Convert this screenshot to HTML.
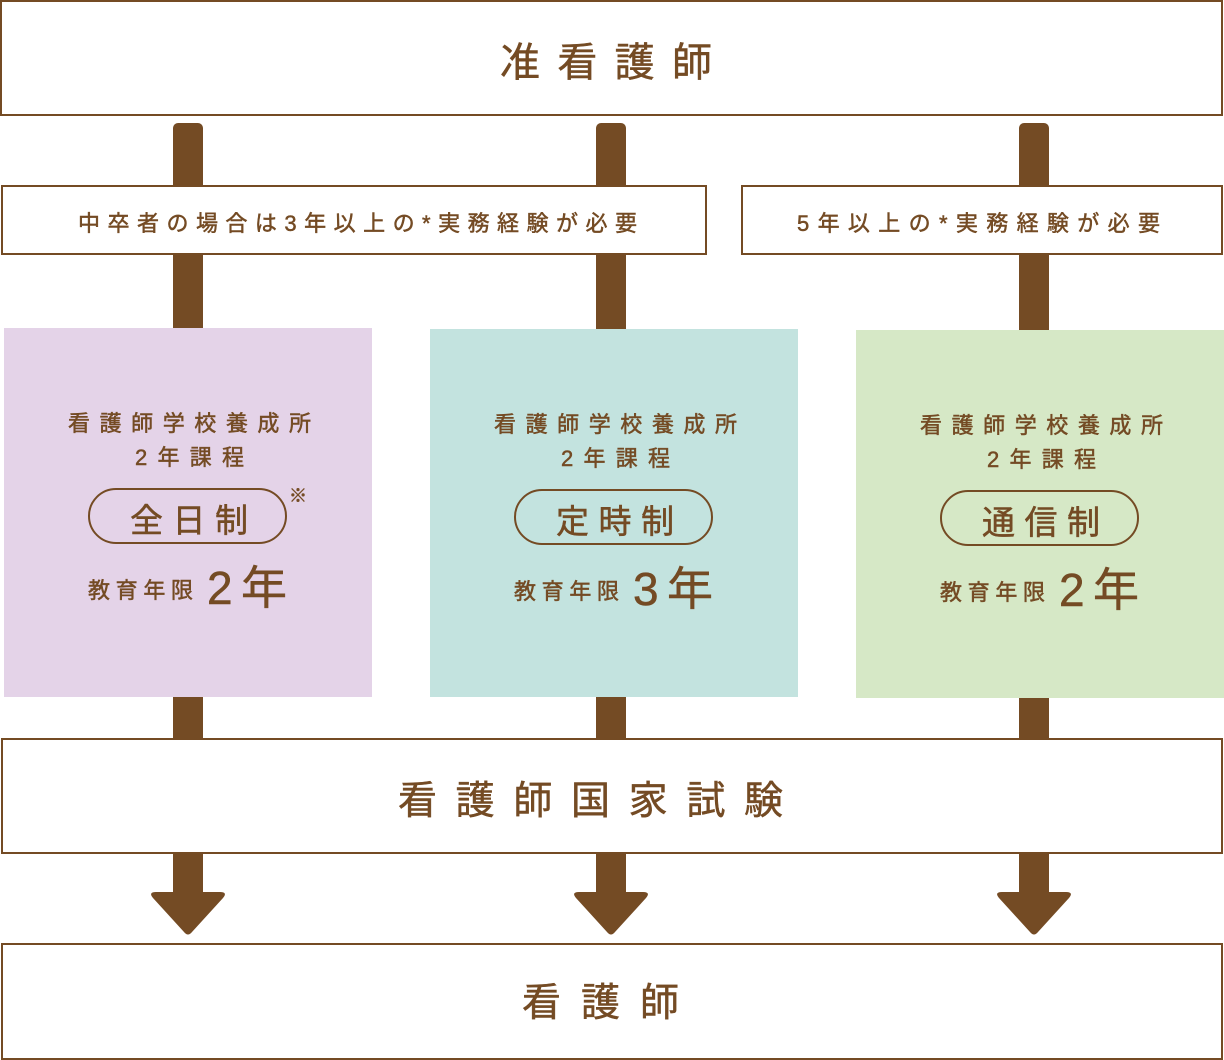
<!DOCTYPE html>
<html><head><meta charset="utf-8"><style>
html,body{margin:0;padding:0;background:#fff;}
svg{display:block;}
text{font-family:"Liberation Sans","Noto Sans CJK JP",sans-serif;fill:#744b24;stroke:#744b24;stroke-width:0.5px;}
</style></head><body>
<svg width="1224" height="1060" viewBox="0 0 1224 1060" xmlns="http://www.w3.org/2000/svg">
<g fill="#744b24">
  <rect x="173" y="123" width="30" height="780" rx="5"/>
  <rect x="596" y="123" width="30" height="780" rx="5"/>
  <rect x="1019" y="123" width="30" height="780" rx="5"/>
  <path d="M156 892 L220 892 Q228 892 223 898 L192 932 Q188 937 184 932 L153 898 Q148 892 156 892Z"/>
  <path d="M579 892 L643 892 Q651 892 646 898 L615 932 Q611 937 607 932 L576 898 Q571 892 579 892Z"/>
  <path d="M1002 892 L1066 892 Q1074 892 1069 898 L1038 932 Q1034 937 1030 932 L999 898 Q994 892 1002 892Z"/>
</g>
<g fill="#fff" stroke="#744b24" stroke-width="2">
  <rect x="1" y="1" width="1221" height="114"/>
  <rect x="2" y="186" width="704" height="68"/>
  <rect x="742" y="186" width="480" height="68"/>
  <rect x="2" y="739" width="1220" height="114"/>
  <rect x="2" y="944" width="1220" height="115"/>
</g>
<rect x="4" y="328" width="368" height="369" fill="#e4d3e8"/>
<rect x="430" y="329" width="368" height="368" fill="#c3e3df"/>
<rect x="856" y="330" width="368" height="368" fill="#d6e8c6"/>

<text x="500" y="76" font-size="40" textLength="212" lengthAdjust="spacing">准看護師</text>
<text x="78" y="231" font-size="22" textLength="559" lengthAdjust="spacing">中卒者の場合は3年以上の*実務経験が必要</text>
<text x="797" y="231" font-size="22" textLength="363" lengthAdjust="spacing">5年以上の*実務経験が必要</text>

<g>
  <text x="68" y="431" font-size="22" textLength="243" lengthAdjust="spacing">看護師学校養成所</text>
  <text x="135" y="465" font-size="22" textLength="109" lengthAdjust="spacing">2年課程</text>
  <rect x="89" y="489" width="197" height="54" rx="27" fill="none" stroke="#744b24" stroke-width="2"/>
  <text x="130" y="532" font-size="33" textLength="118" lengthAdjust="spacing">全日制</text>
  <text x="289" y="502" font-size="18">※</text>
  <text x="88" y="598" font-size="22" textLength="105" lengthAdjust="spacing">教育年限</text>
  <text x="207" y="604" font-size="46" textLength="80" lengthAdjust="spacing">2年</text>
</g>
<g transform="translate(426,1)">
  <text x="68" y="431" font-size="22" textLength="243" lengthAdjust="spacing">看護師学校養成所</text>
  <text x="135" y="465" font-size="22" textLength="109" lengthAdjust="spacing">2年課程</text>
  <rect x="89" y="489" width="197" height="54" rx="27" fill="none" stroke="#744b24" stroke-width="2"/>
  <text x="130" y="532" font-size="33" textLength="118" lengthAdjust="spacing">定時制</text>
  <text x="88" y="598" font-size="22" textLength="105" lengthAdjust="spacing">教育年限</text>
  <text x="207" y="604" font-size="46" textLength="80" lengthAdjust="spacing">3年</text>
</g>
<g transform="translate(852,2)">
  <text x="68" y="431" font-size="22" textLength="243" lengthAdjust="spacing">看護師学校養成所</text>
  <text x="135" y="465" font-size="22" textLength="109" lengthAdjust="spacing">2年課程</text>
  <rect x="89" y="489" width="197" height="54" rx="27" fill="none" stroke="#744b24" stroke-width="2"/>
  <text x="130" y="532" font-size="33" textLength="118" lengthAdjust="spacing">通信制</text>
  <text x="88" y="598" font-size="22" textLength="105" lengthAdjust="spacing">教育年限</text>
  <text x="207" y="604" font-size="46" textLength="80" lengthAdjust="spacing">2年</text>
</g>

<text x="398" y="814" font-size="39" textLength="385" lengthAdjust="spacing">看護師国家試験</text>
<text x="522" y="1016" font-size="39" textLength="157" lengthAdjust="spacing">看護師</text>
</svg>
</body></html>
